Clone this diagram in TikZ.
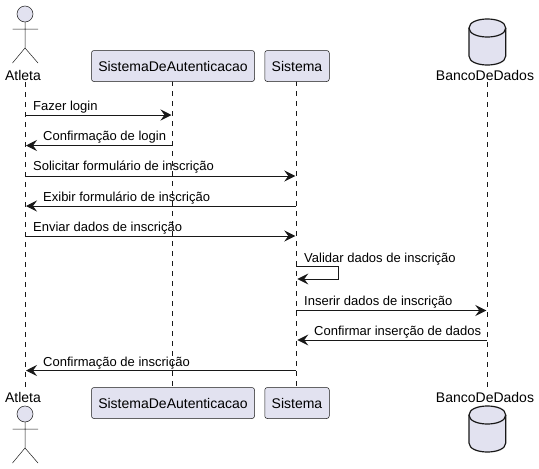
\documentclass[tikz,border=0pt]{standalone}
\usepackage{fontspec}
\setmainfont{Liberation Sans}
\usepackage{xcolor}
\usetikzlibrary{arrows.meta}
\definecolor{partfill}{HTML}{E2E2F0}
\definecolor{partline}{HTML}{181818}

\begin{document}
\begin{tikzpicture}[x=1pt,y=-1pt,font=\fontsize{13}{15}\selectfont]
   \tikzstyle{box}=[draw=partline, fill=partfill, rounded corners=2.5pt, line width=.5pt, minimum height=31pt, inner sep=0pt, font=\fontsize{14}{16}\selectfont]
   \tikzstyle{who}=[inner sep=0pt, text=black, font=\fontsize{14}{16}\selectfont]
   \tikzstyle{msg}=[anchor=base west, inner sep=0pt, text=black]
   \tikzstyle{life}=[draw=partline, line width=.5pt, dash pattern=on 5pt off 5pt]
   \tikzstyle{call}=[draw=partline, line width=.9pt, -{Stealth[length=11pt,width=11pt,inset=4pt]}]
   \tikzstyle{fig}=[draw=partline, line width=.5pt]
   \tikzstyle{dbfig}=[draw=partline, fill=partfill, line width=1.2pt]
   \useasboundingbox (0,0) rectangle (539,469);
   %% lifelines ends
\coordinate (a1) at (25,82);
\coordinate (a2) at (25,387);
\coordinate (b1) at (172.5,81);
\coordinate (b2) at (172.5,387);
\coordinate (c1) at (296.3,81);
\coordinate (c2) at (296.3,387);
\coordinate (d1) at (487.3,82);
\coordinate (d2) at (487.3,387);
 \draw[life] (a1) -- (a2);
 \draw[life] (b1) -- (b2);
 \draw[life] (c1) -- (c2);
 \draw[life] (d1) -- (d2);
   %% participants
\node (A) at (23,75) [who] {Atleta};
\node (B) at (173,66) [box, minimum width=163pt] {SistemaDeAutenticacao};
\node (C) at (297,66) [box, minimum width=64.5pt] {Sistema};
\node (D) at (485,75) [who] {BancoDeDados};
\node (A2) at (23,397) [who] {Atleta};
\node (B2) at (173,403) [box, minimum width=163pt] {SistemaDeAutenticacao};
\node (C2) at (297,403) [box, minimum width=64.5pt] {Sistema};
\node (D2) at (485,397) [who] {BancoDeDados};
   %% actors
 \draw[fig, fill=partfill] (25,14) circle (8);
 \draw[fig] (25,22) -- (25,48) (12.5,29) -- (38,29) (12.5,63) -- (25,48) -- (38,63);
 \draw[fig, fill=partfill] (25,414) circle (8);
 \draw[fig] (25,422) -- (25,448) (12.5,429) -- (38,429) (12.5,463) -- (25,448) -- (38,463);
   %% databases
 \draw[dbfig] (469,28) .. controls (469,16) and (505.7,16) .. (505.7,28) -- (505.7,56) .. controls (505.7,68) and (469,68) .. (469,56) -- cycle;
 \draw[dbfig, fill=none] (469,28) .. controls (469,40) and (505.7,40) .. (505.7,28);
 \draw[dbfig] (469,415) .. controls (469,403) and (505.7,403) .. (505.7,415) -- (505.7,443) .. controls (505.7,455) and (469,455) .. (469,443) -- cycle;
 \draw[dbfig, fill=none] (469,415) .. controls (469,427) and (505.7,427) .. (505.7,415);
   %% message ends
\coordinate (m1a) at (25,115);    \coordinate (m1b) at (171.5,115);
\coordinate (m2a) at (26,145.5);  \coordinate (m2b) at (172.5,145.5);
\coordinate (m3a) at (25,176);    \coordinate (m3b) at (295.3,176);
\coordinate (m4a) at (26,206);    \coordinate (m4b) at (296.3,206);
\coordinate (m5a) at (25,236);    \coordinate (m5b) at (295.3,236);
\coordinate (m6a) at (296.3,266.7); \coordinate (m6b) at (338,266.7);
\coordinate (m6c) at (338,279);   \coordinate (m6d) at (297.3,279);
\coordinate (m7a) at (296.3,310.5); \coordinate (m7b) at (486.3,310.5);
\coordinate (m8a) at (297.3,340); \coordinate (m8b) at (487.3,340);
\coordinate (m9a) at (26,370.5);  \coordinate (m9b) at (296.3,370.5);
   %% messages
 \draw[call] (m1a) -- (m1b);
 \draw[call] (m2b) -- (m2a);
 \draw[call] (m3a) -- (m3b);
 \draw[call] (m4b) -- (m4a);
 \draw[call] (m5a) -- (m5b);
 \draw[call] (m6a) -- (m6b) -- (m6c) -- (m6d);
 \draw[call] (m7a) -- (m7b);
 \draw[call] (m8b) -- (m8a);
 \draw[call] (m9b) -- (m9a);
   %% labels
\node (t1) at (33,110) [msg] {Fazer login};
\node (t2) at (43,140.5) [msg] {Confirmação de login};
\node (t3) at (33,170.5) [msg] {Solicitar formulário de inscrição};
\node (t4) at (43,201) [msg] {Exibir formulário de inscrição};
\node (t5) at (33,231.5) [msg] {Enviar dados de inscrição};
\node (t6) at (304,262) [msg] {Validar dados de inscrição};
\node (t7) at (304,305.5) [msg] {Inserir dados de inscrição};
\node (t8) at (314,335.5) [msg] {Confirmar inserção de dados};
\node (t9) at (43,366) [msg] {Confirmação de inscrição};
\end{tikzpicture}
\end{document}
